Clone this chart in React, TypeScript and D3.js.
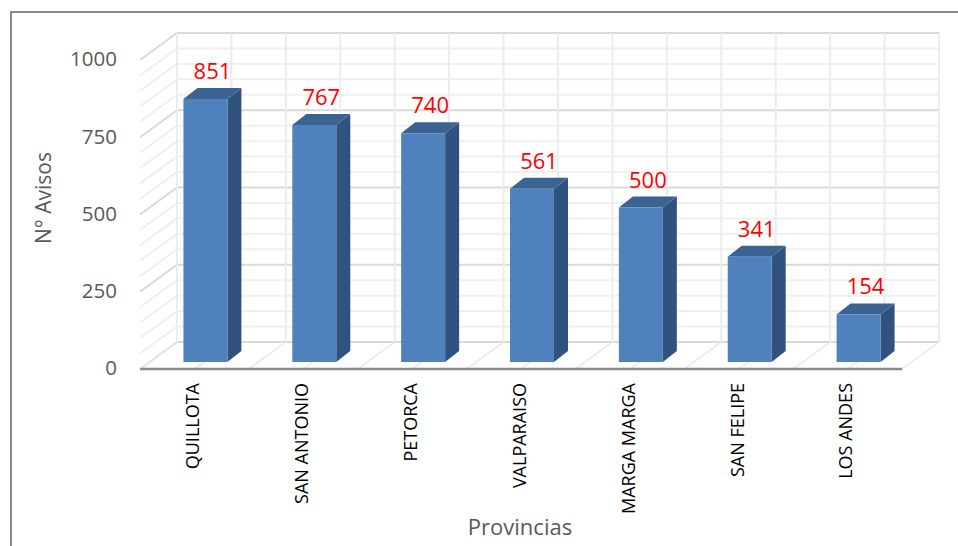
import React from 'react';
import * as d3 from 'd3';

// data
const categories = ['QUILLOTA', 'SAN ANTONIO', 'PETORCA', 'VALPARAISO', 'MARGA MARGA', 'SAN FELIPE', 'LOS ANDES'];
const avisos = [851, 767, 740, 561, 500, 341, 154];
const yTicks = [0, 250, 500, 750, 1000];
const yTitle = 'N° Avisos';
const xTitle = 'Provincias';

const W = 958;
const H = 546;
const font = '"Open Sans", "Noto Sans", sans-serif';

// 3D layout (oblique projection, like excel)
const floorL = 140;
const floorR = 902;
const floorY = 369;
const depth = { dx: 37, dy: -27 };
const barOff = { dx: 11, dy: -7 };
const barDepth = { dx: 14, dy: -11 };

export default () => {
  const yH = d3.scaleLinear().domain([0, 1000]).range([0, 309]);
  const xBand = d3.scaleBand<string>()
    .domain(categories)
    .range([floorL, floorR])
    .paddingInner(0.596)
    .paddingOuter(0.298);
  const xHalf = d3.scaleLinear().domain([0, categories.length * 2]).range([floorL, floorR]);
  const gridVals = d3.range(0, 1001, 50);
  const halfIdx = d3.range(0, categories.length * 2 + 1);
  const bw = xBand.bandwidth();

  const backY = (v: number) => floorY + depth.dy - yH(v);
  const backL = floorL + depth.dx;
  const backR = floorR + depth.dx;

  const poly = (pts: number[][]) => pts.map((p) => p.join(',')).join(' ');

  return (
    <svg width={W} height={H} style={{ position: 'absolute', left: 0, top: 0, background: '#fff' }}>
      {/* outer frame */}
      <path d={`M11,${H} L11,12 L${W},12`} fill="none" stroke="#898989" strokeWidth={2} />

      {/* back wall + left wall grid */}
      {gridVals.map((v) => {
        const major = v % 250 === 0;
        return (
          <g key={`g${v}`}>
            <line x1={backL} x2={backR} y1={backY(v)} y2={backY(v)}
              stroke={major ? '#d9d9d9' : '#efefef'} strokeWidth={2} />
            <line x1={floorL} y1={floorY - yH(v)} x2={backL} y2={backY(v)}
              stroke={major ? '#d9d9d9' : '#efefef'} strokeWidth={2} />
          </g>
        );
      })}
      {halfIdx.map((k) => (
        <g key={`v${k}`}>
          <line x1={xHalf(k) + depth.dx} x2={xHalf(k) + depth.dx} y1={backY(0)} y2={backY(1000)}
            stroke="#ececec" strokeWidth={2} />
          <line x1={xHalf(k)} y1={floorY} x2={xHalf(k) + depth.dx} y2={floorY + depth.dy}
            stroke="#e6e6e6" strokeWidth={1.5} />
        </g>
      ))}

      {/* floor front edge */}
      <line x1={floorL} x2={floorR} y1={floorY} y2={floorY} stroke="#898989" strokeWidth={2.5} />

      {/* bars */}
      {categories.map((c, i) => {
        const x0 = (xBand(c) as number) + barOff.dx;
        const yb = floorY + barOff.dy;
        const yt = yb - yH(avisos[i]);
        const x1 = x0 + bw;
        const front = [[x0, yb], [x1, yb], [x1, yt], [x0, yt]];
        const side = [[x1, yb], [x1 + barDepth.dx, yb + barDepth.dy], [x1 + barDepth.dx, yt + barDepth.dy], [x1, yt]];
        const top = [[x0, yt], [x1, yt], [x1 + barDepth.dx, yt + barDepth.dy], [x0 + barDepth.dx, yt + barDepth.dy]];
        return (
          <g key={c}>
            <polygon points={poly(side)} fill="#30527f" />
            <polygon points={poly(top)} fill="#3b6392" />
            <polygon points={poly(front)} fill="#4f81bd" />
            <text x={x0 + (bw + barDepth.dx) / 2} y={yt + barDepth.dy - 9} textAnchor="middle"
              fontFamily={font} fontSize={22} fill="#ff0000">{avisos[i]}</text>
          </g>
        );
      })}

      {/* y tick labels */}
      {yTicks.map((t) => (
        <text key={`t${t}`} x={117} y={floorY - yH(t) + 1} textAnchor="end" dominantBaseline="middle"
          fontFamily={font} fontSize={20.5} fill="#595959">{t}</text>
      ))}

      {/* category labels */}
      {categories.map((c) => (
        <text key={`c${c}`} transform={`translate(${(xBand(c) as number) + bw / 2},383) rotate(-90)`}
          textAnchor="end" dominantBaseline="middle" fontFamily={font} fontSize={18} fill="#000">{c}</text>
      ))}

      {/* axis titles */}
      <text transform="translate(45,198) rotate(-90)" textAnchor="middle" dominantBaseline="middle"
        fontFamily={font} fontSize={21} fill="#595959">{yTitle}</text>
      <text x={520} y={535} textAnchor="middle" fontFamily={font} fontSize={22} fill="#595959">{xTitle}</text>
    </svg>
  );
};
